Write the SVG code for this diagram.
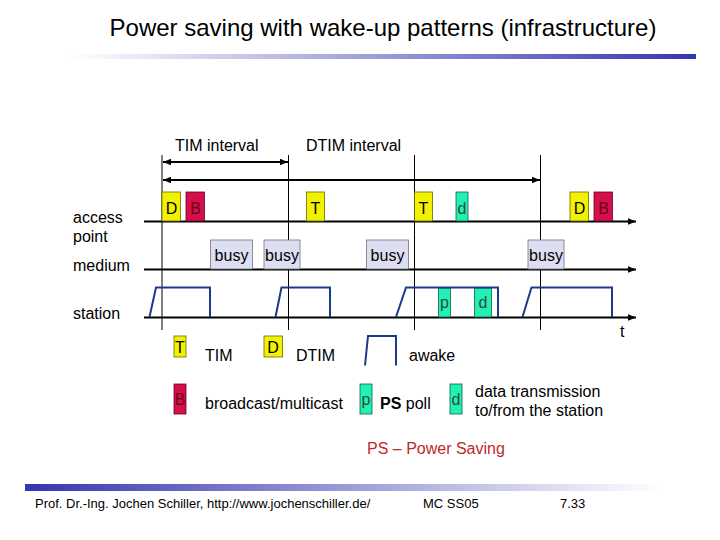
<svg xmlns="http://www.w3.org/2000/svg" width="720" height="540" viewBox="0 0 720 540">
<defs>
<linearGradient id="gTop" x1="0" y1="0" x2="1" y2="0">
<stop offset="0" stop-color="#ffffff"/>
<stop offset="1" stop-color="#3535b0"/>
</linearGradient>
<linearGradient id="gBot" x1="0" y1="0" x2="1" y2="0">
<stop offset="0" stop-color="#3535b0"/>
<stop offset="1" stop-color="#ffffff"/>
</linearGradient>
<marker id="ah" viewBox="0 0 10 10" refX="10" refY="5" markerWidth="8" markerHeight="8" markerUnits="userSpaceOnUse" orient="auto-start-reverse">
<path d="M0,1 L10,5 L0,9 Z" fill="#000"/>
</marker>
<style>
text{font-family:"Liberation Sans",Arial,sans-serif;fill:#000;}
.lbl{font-size:16px;}
.ax{stroke:#000;stroke-width:2;fill:none;}
.vl{stroke:#000;stroke-width:1;}
.y{fill:#f2f200;stroke:#6a6a00;stroke-width:0.8;}
.b{fill:#d4104c;stroke:#6a0020;stroke-width:0.8;}
.g{fill:#22f0b4;stroke:#106040;stroke-width:0.8;}
.busy{fill:#dedef2;stroke:#707080;stroke-width:0.8;}
.wave{stroke:#1a3a8a;stroke-width:2;fill:none;}
.bt{font-size:16px;text-anchor:middle;}
.bred{fill:#700010;}
.gt{fill:#2a4a3a;}
</style>
</defs>

<g id="title">
<text x="383" y="36" font-size="24" text-anchor="middle">Power saving with wake-up patterns (infrastructure)</text>
<rect x="70" y="54" width="626" height="5" fill="url(#gTop)"/>
</g>

<g id="labels">
<text class="lbl" x="73" y="223">access</text>
<text class="lbl" x="73" y="242">point</text>
<text class="lbl" x="73" y="271">medium</text>
<text class="lbl" x="73" y="319">station</text>
<text class="lbl" x="175" y="151">TIM interval</text>
<text class="lbl" x="306" y="151">DTIM interval</text>
<text class="lbl" x="620" y="337">t</text>
</g>

<g id="connectors">
<line class="vl" x1="162" y1="155" x2="162" y2="330"/>
<line class="vl" x1="288.5" y1="155" x2="288.5" y2="330"/>
<line class="vl" x1="414.5" y1="155" x2="414.5" y2="330"/>
<line class="vl" x1="540.5" y1="155" x2="540.5" y2="330"/>
<line class="ax" x1="163" y1="162" x2="288" y2="162" marker-start="url(#ah)" marker-end="url(#ah)"/>
<line class="ax" x1="163" y1="180" x2="540" y2="180" marker-start="url(#ah)" marker-end="url(#ah)"/>
<line class="ax" x1="144" y1="221.5" x2="636" y2="221.5" marker-end="url(#ah)"/>
<line class="ax" x1="144" y1="269.5" x2="636" y2="269.5" marker-end="url(#ah)"/>
<line class="ax" x1="144" y1="317.5" x2="636" y2="317.5" marker-end="url(#ah)"/>
</g>

<g id="ap-frames">
<rect class="y" x="162" y="192" width="18.5" height="29"/>
<text class="bt" x="171.5" y="214">D</text>
<rect class="b" x="186" y="192" width="18.5" height="29"/>
<text class="bt bred" x="195.5" y="214">B</text>
<rect class="y" x="306.5" y="192" width="18" height="29"/>
<text class="bt" x="315.5" y="214">T</text>
<rect class="y" x="414.5" y="192" width="18" height="29"/>
<text class="bt" x="423.5" y="214">T</text>
<rect class="g" x="456" y="192" width="12" height="29"/>
<text class="bt gt" x="462" y="214">d</text>
<rect class="y" x="570" y="192" width="18.5" height="29"/>
<text class="bt" x="579.5" y="214">D</text>
<rect class="b" x="594" y="192" width="18.5" height="29"/>
<text class="bt bred" x="603.5" y="214">B</text>
</g>

<g id="medium-busy">
<rect class="busy" x="210.5" y="240" width="42" height="29"/>
<text class="bt" x="231.5" y="261">busy</text>
<rect class="busy" x="264" y="240" width="36" height="29"/>
<text class="bt" x="282" y="261">busy</text>
<rect class="busy" x="366.5" y="240" width="42" height="29"/>
<text class="bt" x="387.5" y="261">busy</text>
<rect class="busy" x="528" y="240" width="36" height="29"/>
<text class="bt" x="546" y="261">busy</text>
</g>

<g id="station-wave">
<rect class="g" x="438.5" y="288" width="12" height="29"/>
<text class="bt gt" x="444.5" y="308">p</text>
<rect class="g" x="474.5" y="288" width="17" height="29"/>
<text class="bt gt" x="483" y="308">d</text>
<path class="wave" d="M149.5,317 L156,287.5 L210,287.5 L210,317"/>
<path class="wave" d="M275.5,317 L281.5,287.5 L330,287.5 L330,317"/>
<path class="wave" d="M396,317 L406,287.5 L498,287.5 L498,317"/>
<path class="wave" d="M522.5,317 L531.5,287.5 L612,287.5 L612,317"/>
</g>

<g id="legend">
<rect class="y" x="174" y="336" width="12" height="21"/>
<text class="bt" x="180" y="353">T</text>
<text class="lbl" x="205" y="361">TIM</text>
<rect class="y" x="264" y="336" width="18.5" height="21"/>
<text class="bt" x="273" y="353">D</text>
<text class="lbl" x="296" y="361">DTIM</text>
<path class="wave" d="M365,365.5 L368,336 L396,336 L396,365.5"/>
<text class="lbl" x="409" y="361">awake</text>
<rect class="b" x="174" y="384" width="12" height="30"/>
<text class="bt bred" x="180" y="405">B</text>
<text class="lbl" x="205" y="409">broadcast/multicast</text>
<rect class="g" x="360" y="384" width="12" height="30"/>
<text class="bt gt" x="366" y="405">p</text>
<text class="lbl" x="380" y="409"><tspan font-weight="bold">PS</tspan> poll</text>
<rect class="g" x="450" y="384" width="12" height="30"/>
<text class="bt gt" x="456" y="405">d</text>
<text class="lbl" x="475" y="397">data transmission</text>
<text class="lbl" x="475" y="416">to/from the station</text>
<text class="lbl" x="367" y="454" fill="#c0282d" style="fill:#c0282d">PS – Power Saving</text>
</g>

<g id="footer">
<rect x="25" y="484" width="636" height="7" fill="url(#gBot)"/>
<text x="35" y="508" font-size="13">Prof. Dr.-Ing. Jochen Schiller, http://www.jochenschiller.de/</text>
<text x="423" y="508" font-size="13">MC SS05</text>
<text x="560" y="508" font-size="13">7.33</text>
</g>
</svg>
